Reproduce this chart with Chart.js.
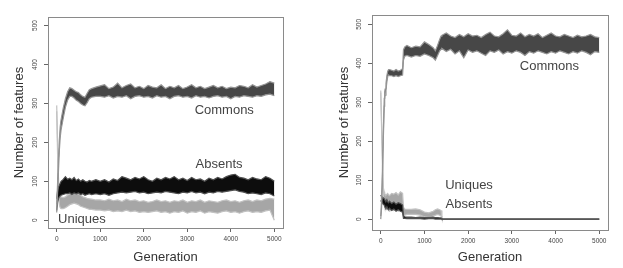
<!DOCTYPE html>
<html>
<head>
<meta charset="utf-8">
<script src="https://cdn.jsdelivr.net/npm/chart.js@4.4.1/dist/chart.umd.min.js"></script>
<style>
body { margin: 0; background: #fff; }
#wrap { position: relative; width: 623px; height: 268px; }
canvas { position: absolute; top: 0; }
#left { left: 0; }
#right { left: 311px; }
</style>
</head>
<body>
<div id="wrap">
<canvas id="left" width="311" height="268"></canvas>
<canvas id="right" width="312" height="268"></canvas>
</div>
<script>
const xTicks = [0, 1000, 2000, 3000, 4000, 5000];
const yTicks = [0, 100, 200, 300, 400, 500];

// left run: sampled generations and envelopes (low / high) of each noisy series
const gensL = [0, 20, 40, 60, 80, 100, 150, 200, 250, 300, 350, 400, 450, 500, 550, 600, 650, 700, 750, 800, 900,
  1000, 1100, 1200, 1300, 1400, 1500, 1600, 1700, 1800, 1900, 2000, 2100, 2200, 2300, 2400, 2500, 2600, 2700, 2800, 2900,
  3000, 3100, 3200, 3300, 3400, 3500, 3600, 3700, 3800, 3900, 4000, 4100, 4200, 4300, 4400, 4500, 4600, 4700, 4800, 4900, 5000];
const commonsHiL = [40, 95, 155, 205, 240, 258, 288, 312, 330, 340, 338, 334, 330, 328, 322, 318, 316, 326, 335, 338, 342,
  345, 348, 338, 342, 352, 340, 346, 350, 340, 344, 338, 346, 342, 340, 348, 338, 344, 340, 346, 338,
  342, 348, 340, 344, 338, 342, 346, 340, 344, 338, 342, 340, 346, 344, 340, 348, 342, 346, 350, 356, 352];
const commonsLoL = [20, 70, 125, 178, 212, 232, 262, 290, 308, 318, 318, 314, 308, 305, 300, 296, 294, 302, 312, 316, 318,
  318, 316, 320, 314, 318, 316, 320, 312, 318, 320, 316, 318, 314, 320, 316, 318, 312, 318, 320, 316,
  318, 314, 320, 316, 318, 314, 318, 320, 316, 318, 312, 318, 316, 320, 318, 316, 320, 318, 322, 324, 320];
const absentsHiL = [55, 75, 85, 90, 95, 100, 105, 112, 105, 108, 104, 110, 102, 106, 100, 104, 100, 98, 102, 100, 104,
  100, 104, 98, 106, 102, 112, 108, 104, 110, 106, 112, 104, 100, 108, 104, 110, 106, 112, 104, 108,
  102, 110, 104, 106, 100, 108, 104, 110, 106, 112, 116, 118, 110, 108, 104, 110, 106, 104, 112, 108, 100];
const absentsLoL = [25, 45, 55, 60, 62, 64, 66, 68, 68, 70, 66, 70, 68, 70, 66, 68, 64, 66, 68, 66, 68,
  66, 68, 64, 68, 70, 72, 70, 72, 74, 70, 72, 68, 70, 72, 70, 74, 72, 70, 68, 72,
  70, 74, 70, 72, 68, 72, 70, 74, 72, 74, 76, 78, 74, 72, 68, 70, 68, 66, 70, 68, 62];
const uniquesHiL = [295, 200, 110, 70, 62, 60, 58, 60, 64, 68, 70, 72, 70, 68, 64, 60, 58, 56, 55, 54, 52,
  52, 50, 54, 50, 52, 48, 54, 50, 52, 48, 50, 46, 48, 52, 48, 50, 46, 50, 48, 52,
  46, 50, 48, 52, 46, 50, 48, 46, 50, 52, 48, 50, 46, 50, 52, 48, 52, 50, 54, 56, 54];
const uniquesLoL = [280, 170, 80, 40, 32, 30, 30, 32, 36, 40, 42, 44, 42, 40, 36, 34, 32, 30, 28, 28, 26,
  26, 24, 26, 22, 24, 22, 26, 22, 24, 20, 22, 20, 22, 24, 20, 22, 18, 22, 20, 24,
  18, 22, 20, 24, 18, 22, 20, 18, 22, 24, 20, 22, 18, 22, 24, 20, 22, 20, 24, 26, 0];

// right run
const gensR = [0, 20, 40, 60, 80, 90, 100, 120, 140, 160, 180, 200, 250, 300, 350, 400, 450, 500, 520, 550, 600,
  700, 800, 900, 1000, 1100, 1200, 1250, 1300, 1350, 1380, 1400,
  1500, 1600, 1700, 1800, 1900, 2000, 2100, 2200, 2300, 2400, 2500, 2600, 2700, 2800, 2900, 3000, 3100, 3200,
  3300, 3400, 3500, 3600, 3700, 3800, 3900, 4000, 4100, 4200, 4300, 4400, 4500, 4600, 4700, 4800, 4900, 5000];
const commonsHiR = [8, 50, 130, 230, 310, 326, 334, 348, 368, 380, 384, 384, 382, 380, 384, 380, 382, 386, 435, 442, 446,
  440, 444, 442, 455, 448, 440, 432, 446, 462, 470, 472,
  478, 470, 466, 474, 468, 476, 470, 472, 466, 474, 480, 470, 468, 476, 486, 472, 470, 478,
  468, 474, 470, 476, 466, 472, 478, 470, 468, 474, 470, 466, 472, 468, 470, 474, 468, 466];
const commonsLoR = [0, 30, 110, 210, 290, 310, 318, 332, 352, 366, 370, 368, 368, 366, 368, 366, 368, 370, 408, 418, 420,
  416, 420, 418, 424, 420, 414, 408, 420, 432, 436, 438,
  430, 436, 424, 432, 414, 434, 428, 432, 426, 420, 432, 428, 434, 424, 430, 426, 432, 428,
  420, 430, 426, 432, 428, 424, 430, 426, 432, 428, 424, 430, 426, 432, 428, 422, 430, 428];
const uniquesHiR = [330, 250, 160, 80, 70, 66, 64, 62, 64, 66, 62, 60, 66, 64, 68, 62, 70, 66, 30, 26, 25,
  25, 26, 24, 18, 16, 20, 24, 26, 24, 22, 0,
  0, 0, 0, 0, 0, 0, 0, 0, 0, 0, 0, 0, 0, 0, 0, 0, 0, 0,
  0, 0, 0, 0, 0, 0, 0, 0, 0, 0, 0, 0, 0, 0, 0, 0, 0, 0];
const uniquesLoR = [325, 230, 130, 50, 35, 30, 28, 26, 24, 26, 22, 20, 24, 22, 26, 20, 24, 18, 8, 10, 12,
  12, 12, 10, 6, 4, 8, 10, 12, 10, 8, 0,
  0, 0, 0, 0, 0, 0, 0, 0, 0, 0, 0, 0, 0, 0, 0, 0, 0, 0,
  0, 0, 0, 0, 0, 0, 0, 0, 0, 0, 0, 0, 0, 0, 0, 0, 0, 0];
const absentsHiR = [62, 58, 56, 54, 52, 50, 48, 46, 50, 44, 42, 46, 40, 44, 38, 42, 40, 36, 8, 6, 5,
  5, 4, 5, 4, 4, 5, 4, 4, 3, 3, 0,
  0, 0, 0, 0, 0, 0, 0, 0, 0, 0, 0, 0, 0, 0, 0, 0, 0, 0,
  0, 0, 0, 0, 0, 0, 0, 0, 0, 0, 0, 0, 0, 0, 0, 0, 0, 0];
const absentsLoR = [48, 44, 40, 38, 36, 34, 30, 28, 32, 26, 24, 28, 22, 26, 20, 24, 20, 18, 2, 2, 1,
  1, 1, 1, 0, 1, 1, 0, 0, 0, 0, 0,
  0, 0, 0, 0, 0, 0, 0, 0, 0, 0, 0, 0, 0, 0, 0, 0, 0, 0,
  0, 0, 0, 0, 0, 0, 0, 0, 0, 0, 0, 0, 0, 0, 0, 0, 0, 0];

const FONT = '"Liberation Sans", Arial, sans-serif';

function band(gens, lo, hi, fillColor, edgeColor) {
  return [
    { data: gens.map((g, i) => ({ x: g, y: lo[i] })), borderColor: edgeColor, borderWidth: 1.2,
      pointRadius: 0, fill: false },
    { data: gens.map((g, i) => ({ x: g, y: hi[i] })), borderColor: edgeColor, borderWidth: 1.2,
      pointRadius: 0, fill: '-1', backgroundColor: fillColor }
  ];
}

const boxPlugin = {
  id: 'rbox',
  afterDraw(chart, args, opts) {
    const { ctx, chartArea: a, scales } = chart;
    ctx.save();
    ctx.strokeStyle = '#8a8a8a';
    ctx.lineWidth = 1;
    ctx.strokeRect(Math.round(a.left) + 0.5, Math.round(a.top) + 0.5,
      Math.round(a.right - a.left), Math.round(a.bottom - a.top));
    ctx.font = '13px ' + FONT;
    ctx.fillStyle = '#444';
    ctx.textAlign = 'center';
    ctx.textBaseline = 'middle';
    for (const n of opts.notes) {
      ctx.fillText(n.text, scales.x.getPixelForValue(n.x), scales.y.getPixelForValue(n.y));
    }
    ctx.restore();
  }
};

function makeChart(id, gens, s, notes, lay) {
  const datasets = [
    ...band(gens, s.commonsLo, s.commonsHi, '#474747', '#959595'),
    ...band(gens, s.absentsLo, s.absentsHi, '#0d0d0d', '#505050'),
    ...band(gens, s.uniquesLo, s.uniquesHi, '#a6a6a6', '#c2c2c2')
  ];
  return new Chart(document.getElementById(id), {
    type: 'line',
    data: { datasets },
    options: {
      responsive: false,
      animation: false,
      events: [],
      layout: { padding: { top: lay.top, right: lay.right, left: 0, bottom: 0 } },
      elements: { line: { tension: 0 } },
      plugins: { legend: { display: false }, tooltip: { enabled: false }, rbox: { notes } },
      scales: {
        x: {
          type: 'linear', min: -200, max: 5200,
          afterBuildTicks: sc => { sc.ticks = xTicks.map(v => ({ value: v })); },
          afterFit: sc => { sc.height = lay.xh; },
          grid: { drawOnChartArea: false, tickLength: 4, color: '#666' },
          border: { display: false },
          ticks: { font: { size: 6.5, family: FONT }, color: '#444', padding: 3, maxRotation: 0,
                   autoSkip: false, callback: v => String(v) },
          title: { display: true, text: 'Generation', color: '#333', font: { size: 13, family: FONT },
                   padding: { top: 0, bottom: lay.xtp } }
        },
        y: {
          min: lay.ymin, max: lay.ymax,
          afterBuildTicks: sc => { sc.ticks = yTicks.map(v => ({ value: v })); },
          afterFit: sc => { sc.width = lay.yw; },
          grid: { drawOnChartArea: false, tickLength: 4, color: '#666' },
          border: { display: false },
          ticks: { font: { size: 6.5, family: FONT }, color: '#444', padding: lay.ylp, minRotation: 90,
                   maxRotation: 90, crossAlign: 'center', callback: v => String(v) },
          title: { display: true, text: 'Number of features', color: '#333', font: { size: 13, family: FONT },
                   padding: { top: lay.ytp, bottom: 0 } }
        }
      }
    },
    plugins: [boxPlugin]
  });
}

makeChart('left', gensL,
  { commonsLo: commonsLoL, commonsHi: commonsHiL, absentsLo: absentsLoL, absentsHi: absentsHiL,
    uniquesLo: uniquesLoL, uniquesHi: uniquesHiL },
  [{ text: 'Commons', x: 3850, y: 282 }, { text: 'Absents', x: 3730, y: 144 }, { text: 'Uniques', x: 580, y: 2 }],
  { top: 17, right: 28, xh: 40, yw: 48, ymin: -20, ymax: 522, xtp: 3, ylp: 3, ytp: 12 });

makeChart('right', gensR,
  { commonsLo: commonsLoR, commonsHi: commonsHiR, absentsLo: absentsLoR, absentsHi: absentsHiR,
    uniquesLo: uniquesLoR, uniquesHi: uniquesHiR },
  [{ text: 'Commons', x: 3860, y: 393 }, { text: 'Uniques', x: 2020, y: 87 }, { text: 'Absents', x: 2020, y: 38 }],
  { top: 15, right: 15, xh: 38, yw: 61, ymin: -28, ymax: 524, xtp: 3, ylp: 3, ytp: 26 });
</script>
</body>
</html>
